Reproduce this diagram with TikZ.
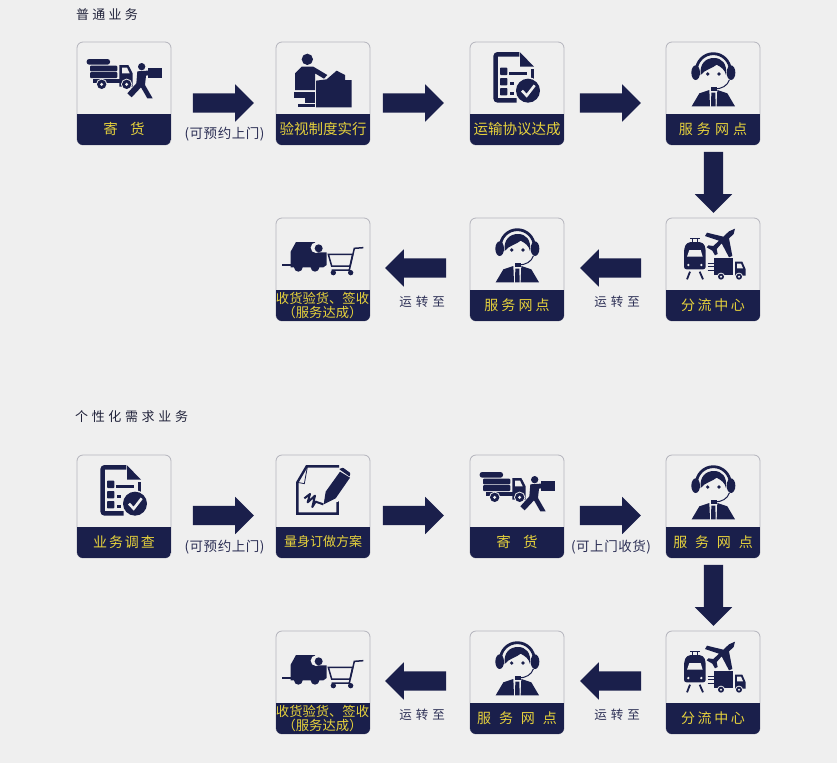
\documentclass[tikz,border=0pt]{standalone}
\usepackage{fontspec}
\setmainfont{Noto Sans CJK SC}
\usetikzlibrary{shapes.arrows}
\definecolor{navy}{HTML}{1A1F4B}
\definecolor{pagebg}{HTML}{EFEFEF}
\definecolor{edgec}{HTML}{B4B4BC}
\definecolor{gold}{HTML}{E6D23C}
\definecolor{note}{HTML}{2C2F55}
\definecolor{ttl}{HTML}{20223A}
\tikzset{
 x=1pt,y=-1pt,
 cardbox/.style={draw=edgec,line width=.8pt,fill=pagebg,rounded corners=6pt,minimum width=94pt,minimum height=103pt,inner sep=0,outer sep=0,anchor=north west},
 barlabel/.style={text=gold,inner sep=0,align=center,font=\fontsize{14.5}{15}\selectfont},
 fatarrow/.style={single arrow,fill=navy,inner sep=9.5pt,outer sep=0,minimum height=61pt,single arrow head extend=9pt,single arrow tip angle=90,single arrow head indent=0pt},
 notelabel/.style={text=note,inner sep=0,font=\fontsize{13.5}{14}\selectfont},
 turnlabel/.style={text=note,inner sep=0,font=\fontsize{12.5}{14}\selectfont},
 titlelabel/.style={text=ttl,inner sep=0,anchor=west,font=\fontsize{13}{14}\selectfont},
 ink/.style={fill=navy,draw=none},
 inkline/.style={draw=navy,fill=none},
 hole/.style={fill=pagebg,draw=none},
}
\newcommand\ltsp[1]{\addfontfeatures{LetterSpace=#1}}
% \cardat{name}{x}{y}{label}
\newcommand\cardat[4]{%
 \node[cardbox] (#1) at (#2,#3) {};
 \begin{scope}
  \clip[rounded corners=6pt] (#2,#3) rectangle (#2+94,#3+103);
  \fill[navy] (#2,#3+72) rectangle (#2+94,#3+103);
 \end{scope}
 \node[barlabel] (#1-label) at (#2+47,#3+87) {#4};
}
\newcommand\iconTruck[2]{\begin{scope}[shift={(#1-17,#2-12)},scale=1/3]
 \fill[ink,rounded corners=2.5pt] (80,87) rectangle (150,104);
 \fill[ink,rounded corners=1pt] (90,107) rectangle (172,124);
 \fill[ink,rounded corners=1pt] (90,126) rectangle (172,144);
 \fill[ink] (100,147) rectangle (180,160);
 \fill[ink] (178,105) -- (205,105) -- (218,130) -- (218,170) -- (178,170) -- cycle;
 \fill[hole] (186,113) -- (201,113) -- (209,130) -- (186,130) -- cycle;
 \foreach \c in {(125,163),(200,163)}{\fill[hole] \c circle (17); \fill[ink] \c circle (14); \fill[hole] \c circle (5);}
 \fill[ink] (245,110) circle (11);
 \fill[ink] (232,124) -- (262,122) -- (285,122) -- (285,133) -- (258,137) -- (255,165) -- (278,205) -- (262,205) -- (243,172) -- (215,202) -- (202,190) -- (229,160) -- cycle;
 \fill[ink] (263,113) rectangle (305,143);
\end{scope}}
\newcommand\iconInspect[2]{\begin{scope}[shift={(#1-216,#2-12)},scale=1/3]
 \fill[ink] (742,88) circle (17);
 \fill[ink] (705,130) -- (725,110) -- (760,110) -- (802,135) -- (792,146) -- (765,130) -- (765,180) -- (705,180) -- cycle;
 \fill[ink] (703,186) rectangle (765,205);
 \fill[ink] (735,205) rectangle (765,220);
 \fill[ink] (713,221) rectangle (765,232);
 \fill[ink] (768,152) -- (800,148) -- (830,122) -- (855,135) -- (855,150) -- (875,150) -- (875,232) -- (768,232) -- cycle;
\end{scope}}
\newcommand\iconCheck[2]{\begin{scope}[shift={(#1-10,#2-12)},scale=1/3]
 \draw[inkline,line width=4.5pt,rounded corners=2pt] (178,73) -- (107,73) -- (107,211) -- (170,211);
 \fill[ink] (180,67) -- (222,110) -- (180,110) -- cycle;
 \fill[ink] (213,118) rectangle (223,147);
 \foreach \y in {124,155,185}{\fill[ink,rounded corners=.8pt] (120,\y-11) rectangle (142,\y+11);}
 \fill[ink] (148,125) rectangle (200,135);
 \fill[ink] (150,155) rectangle (163,165);
 \fill[ink] (150,185) rectangle (163,195);
 \fill[hole] (204,182) circle (40);
 \fill[ink] (204,182) circle (36);
 \draw[pagebg,line width=2.6pt] (186,182) -- (200,197) -- (224,166);
\end{scope}}
\newcommand\iconAgent[2]{\begin{scope}[shift={(#1-206,#2-12)},scale=1/3]
 \draw[inkline,line width=2.8pt] (709,122) arc[start angle=180,end angle=360,radius=51];
 \fill[ink] (707,128) ellipse[x radius=13,y radius=22];
 \fill[ink] (813,128) ellipse[x radius=13,y radius=22];
 \fill[ink] (722,135) .. controls (718,100) and (738,84) .. (762,84) .. controls (785,84) and (802,100) .. (798,135) .. controls (795,120) and (785,112) .. (770,104) .. controls (758,115) and (735,118) .. (722,135) -- cycle;
 \fill[ink] (743,132) circle (5.5);
 \fill[ink] (777,132) circle (5.5);
 \draw[inkline,line width=1pt] (808,150) .. controls (802,168) and (785,176) .. (765,177);
 \fill[ink] (752,171) rectangle (772,183);
 \fill[ink] (695,229) -- (718,190) -- (748,180) -- (750,229) -- cycle;
 \fill[ink] (772,180) -- (802,190) -- (825,229) -- (770,229) -- cycle;
 \fill[ink] (754,188) -- (766,188) -- (767,229) -- (753,229) -- cycle;
\end{scope}}
\newcommand\iconCart[2]{\begin{scope}[shift={(#1-16,#2-8)},scale=1/3]
 \fill[ink] (92,125) -- (108,96) -- (165,96) -- (165,127) -- (200,127) -- (200,165) -- (190,172) -- (92,172) -- cycle;
 \fill[hole] (168,113) circle (16);
 \fill[ink] (176,115) circle (12);
 \fill[ink] (115,172) circle (13);
 \fill[ink] (165,172) circle (13);
 \fill[ink] (65,162) rectangle (105,167);
 \draw[inkline,line width=1.5pt] (310,113) -- (283,115) -- (268,180) -- (215,180);
 \draw[inkline,line width=1.5pt] (205,133) -- (278,133) -- (270,168) -- (215,168) -- cycle;
 \fill[ink] (220,188) circle (8);
 \fill[ink] (272,188) circle (8);
\end{scope}}
\newcommand\iconHub[2]{\begin{scope}[shift={(#1-11,#2-8)},scale=1/3]
 \draw[inkline,line width=1pt] (105,85) -- (135,85) (112,85) -- (112,97) (128,85) -- (128,97);
 \fill[ink,rounded corners=2.5pt] (87,178) -- (87,125) .. controls (90,100) and (100,96) .. (120,96) .. controls (140,96) and (150,100) .. (152,125) -- (152,178) -- cycle;
 \fill[hole] (103,120) -- (137,120) -- (143,140) -- (96,140) -- cycle;
 \fill[hole] (100,165) circle (4);
 \fill[hole] (139,165) circle (4);
 \draw[inkline,line width=1.8pt] (105,185) -- (96,208) (134,185) -- (144,208);
 \draw[inkline,line width=.9pt] (158,160) -- (176,160) (160,170) -- (176,170) (158,180) -- (176,180);
 \fill[ink] (240,56) -- (236,72) -- (222,85) -- (232,138) -- (222,142) -- (200,100) -- (185,117) -- (188,132) -- (180,136) -- (172,122) -- (155,112) -- (160,106) -- (175,108) -- (192,92) -- (150,78) -- (156,68) -- (205,80) -- (222,64) -- cycle;
 \fill[ink] (178,143) rectangle (235,195);
 \fill[ink] (240,155) -- (262,155) -- (272,178) -- (272,197) -- (240,197) -- cycle;
 \fill[hole] (246,161) -- (258,161) -- (264,175) -- (246,175) -- cycle;
 \foreach \c in {(198,200),(252,200)}{\fill[hole] \c circle (12); \fill[ink] \c circle (9); \fill[hole] \c circle (3.5);}
\end{scope}}
\newcommand\iconPen[2]{\begin{scope}[shift={(#1-11,#2-10)},scale=1/3]
 \draw[inkline,line width=2.4pt] (218,130) -- (218,206) -- (97,206) -- (97,112) -- (125,64) -- (222,64);
 \draw[inkline,line width=.8pt] (127,66) -- (118,116) -- (97,112);
 \fill[hole] (215,70) -- (262,85) -- (220,170) -- (170,180) -- cycle;
 \fill[ink] (176,178) -- (182,140) -- (225,80) -- (255,98) -- (212,160) -- cycle;
 \fill[ink,rounded corners=.7pt] (222,72) -- (234,68) -- (256,84) -- (254,95) -- cycle;
 \draw[inkline,line width=2pt,line join=round] (118,160) -- (135,147) -- (128,172) -- (150,152) -- (142,186) -- (152,170) -- (175,178);
\end{scope}}
\begin{document}
\begin{tikzpicture}
\useasboundingbox[fill=pagebg] (0,0) rectangle (837,763);
% titles
\node[titlelabel] (t1) at (76,15) {\ltsp{25}普通业务};
\node[titlelabel] (t2) at (75,417) {\ltsp{28}个性化需求业务};
% row 1
\cardat{a}{77}{42}{寄\hspace{.85em}货}
\cardat{b}{276}{42}{验视制度实行}
\cardat{c}{470}{42}{运输协议达成}
\cardat{d}{666}{42}{\fontsize{14}{15}\selectfont\ltsp{29}服务网点}
\iconTruck{77}{42}\iconInspect{276}{42}\iconCheck{470}{42}\iconAgent{666}{42}
% row 2
\cardat{e}{666}{218}{\fontsize{14}{15}\selectfont\ltsp{18}分流中心}
\cardat{f}{470}{218}{\fontsize{14}{15}\selectfont\ltsp{22}服务网点}
\node[cardbox] (g) at (276,218) {};
\begin{scope}
 \clip[rounded corners=6pt] (276,218) rectangle (370,321);
 \fill[navy] (276,290) rectangle (370,321);
\end{scope}
\node[barlabel,font=\fontsize{13.3}{11.5}\selectfont] (g-label) at (322.5,305.5) {收货验货、签收\\（服务达成）};
\iconHub{666}{218}\iconAgent{470}{218}\iconCart{276}{218}
% row 3
\cardat{h}{77}{455}{\fontsize{14}{15}\selectfont\ltsp{14}业务调查}
\cardat{i}{276}{455}{\fontsize{13}{14}\selectfont{}量身订做方案}
\cardat{j}{470}{455}{寄\hspace{.85em}货}
\cardat{k}{666}{455}{\fontsize{14}{15}\selectfont\ltsp{56}服务网点}
\iconCheck{77}{455}\iconPen{276}{455}\iconTruck{470}{455}\iconAgent{666}{455}
% row 4
\cardat{l}{666}{631}{\fontsize{14}{15}\selectfont\ltsp{18}分流中心}
\cardat{m}{470}{631}{\fontsize{14}{15}\selectfont\ltsp{56}服务网点}
\node[cardbox] (n) at (276,631) {};
\begin{scope}
 \clip[rounded corners=6pt] (276,631) rectangle (370,734);
 \fill[navy] (276,703) rectangle (370,734);
\end{scope}
\node[barlabel,font=\fontsize{13.3}{11.5}\selectfont] (n-label) at (322.5,718.5) {收货验货、签收\\（服务达成）};
\iconHub{666}{631}\iconAgent{470}{631}\iconCart{276}{631}
% arrows
\node[fatarrow] (ab) at (218.5,103) {};
\node[fatarrow] (bc) at (408.5,103) {};
\node[fatarrow] (cd) at (605.5,103) {};
\node[fatarrow,shape border rotate=270] (de) at (713.5,177.5) {};
\node[fatarrow,shape border rotate=180] (ef) at (615.5,268) {};
\node[fatarrow,shape border rotate=180] (fg) at (420.5,268) {};
\node[fatarrow] (hi) at (218.5,515.5) {};
\node[fatarrow] (ij) at (408.5,515.5) {};
\node[fatarrow] (jk) at (605.5,515.5) {};
\node[fatarrow,shape border rotate=270] (kl) at (713.5,590.5) {};
\node[fatarrow,shape border rotate=180] (lm) at (615.5,681) {};
\node[fatarrow,shape border rotate=180] (mn) at (420.5,681) {};
% notes
\node[notelabel] (n1) at (224.5,134) {\ltsp{4}(可预约上门)};
\node[turnlabel] (n2) at (422,301.5) {\ltsp{32}运转至};
\node[turnlabel] (n3) at (617,301.5) {\ltsp{32}运转至};
\node[notelabel] (n4) at (224.5,547) {\ltsp{4}(可预约上门)};
\node[notelabel] (n5) at (611,547) {\ltsp{4}(可上门收货)};
\node[turnlabel] (n6) at (422,714.5) {\ltsp{32}运转至};
\node[turnlabel] (n7) at (617,714.5) {\ltsp{32}运转至};
\end{tikzpicture}
\end{document}
